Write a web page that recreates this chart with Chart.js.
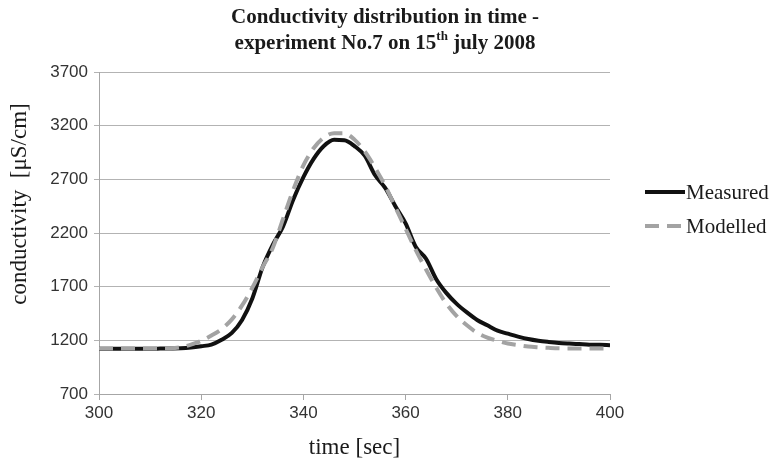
<!DOCTYPE html>
<html>
<head>
<meta charset="utf-8">
<script src="https://cdn.jsdelivr.net/npm/chart.js@4"></script>
<style>
  html, body { margin: 0; padding: 0; background: #fff; }
  #wrap { width: 776px; height: 465px; position: relative; }
</style>
</head>
<body>
<div id="wrap"><canvas id="conductivityChart"></canvas></div>
<script>
const timeSec = [300, 302, 304, 306, 308, 310, 312, 314, 316, 318,
    320, 322, 324, 326, 328, 330, 332, 334, 336, 338,
    340, 342, 344, 346, 348, 350, 352, 354, 356, 358,
    360, 362, 364, 366, 368, 370, 372, 374, 376, 378,
    380, 382, 384, 386, 388, 390, 392, 394, 396, 398, 400];

const measured = [1122, 1122, 1122, 1122, 1122, 1122, 1123, 1124, 1126, 1133,
    1145, 1160, 1205, 1270, 1390, 1590, 1880, 2090, 2260, 2510,
    2720, 2890, 3010, 3068, 3065, 3010, 2920, 2740, 2620, 2450,
    2290, 2070, 1960, 1770, 1640, 1540, 1460, 1390, 1340, 1290,
    1262, 1235, 1212, 1196, 1185, 1176, 1170, 1165, 1160, 1158, 1155];

const modelled = [1125, 1125, 1125, 1125, 1125, 1125, 1125, 1126, 1135, 1160,
    1195, 1245, 1305, 1395, 1525, 1690, 1880, 2060, 2330, 2600,
    2830, 2990, 3090, 3130, 3130, 3070, 2960, 2810, 2640, 2440,
    2240, 2040, 1860, 1690, 1540, 1425, 1340, 1270, 1225, 1195,
    1170, 1155, 1142, 1135, 1130, 1126, 1125, 1125, 1125, 1125, 1125];

const yTicks = [700, 1200, 1700, 2200, 2700, 3200, 3700];
const xTicks = [300, 320, 340, 360, 380, 400];

const titleLines = ['Conductivity distribution in time -', 'experiment No.7 on 15', 'th', ' july 2008'];
const seriesNames = ['Measured', 'Modelled'];
const yTitle = 'conductivity  [μS/cm]';

const serif = '"Liberation Serif", "Times New Roman", serif';
const sans = '"Liberation Sans", Arial, sans-serif';

const toPoints = (ys) => ys.map((y, i) => ({ x: timeSec[i], y }));

// title with superscript, y title and legend drawn by hand
const decorPlugin = {
    id: 'decor',
    afterDraw(chart) {
        const ctx = chart.ctx;
        ctx.save();
        ctx.fillStyle = '#1a1a1a';
        ctx.textBaseline = 'middle';
        const cx = 385;

        const mainFont = 'bold 21px ' + serif;
        const supFont = 'bold 13px ' + serif;
        ctx.font = mainFont;
        ctx.textAlign = 'center';
        ctx.fillText(titleLines[0], cx, 18);

        ctx.font = mainFont;
        const w1 = ctx.measureText(titleLines[1]).width;
        const w3 = ctx.measureText(titleLines[3]).width;
        ctx.font = supFont;
        const w2 = ctx.measureText(titleLines[2]).width;
        let x = cx - (w1 + w2 + w3) / 2;
        ctx.textAlign = 'left';
        ctx.font = mainFont;
        ctx.fillText(titleLines[1], x, 44);
        x += w1;
        ctx.font = supFont;
        ctx.fillText(titleLines[2], x, 37);
        x += w2;
        ctx.font = mainFont;
        ctx.fillText(titleLines[3], x, 44);

        // y axis title
        ctx.save();
        ctx.translate(20, 204);
        ctx.rotate(-Math.PI / 2);
        ctx.textAlign = 'center';
        ctx.font = '23px ' + serif;
        ctx.fillText(yTitle, 0, 0);
        ctx.restore();

        // legend
        const items = [
            { y: 192, color: '#111111', dash: [] },
            { y: 226, color: '#a3a3a3', dash: [14, 8] }
        ];
        ctx.textAlign = 'left';
        items.forEach((it, i) => {
            ctx.beginPath();
            ctx.setLineDash(it.dash);
            ctx.strokeStyle = it.color;
            ctx.lineWidth = 4;
            ctx.moveTo(645, it.y);
            ctx.lineTo(685, it.y);
            ctx.stroke();
            ctx.setLineDash([]);
            ctx.font = '21px ' + serif;
            ctx.fillStyle = '#1a1a1a';
            ctx.fillText(seriesNames[i], 686, it.y + 1);
        });
        ctx.restore();
    }
};

new Chart(document.getElementById('conductivityChart'), {
    type: 'line',
    data: {
        datasets: [
            {
                label: seriesNames[0],
                data: toPoints(measured),
                borderColor: '#111111',
                borderWidth: 4,
                pointRadius: 0,
                cubicInterpolationMode: 'monotone',
                order: 1
            },
            {
                label: seriesNames[1],
                data: toPoints(modelled),
                borderColor: '#a3a3a3',
                borderWidth: 4,
                borderDash: [14, 8],
                pointRadius: 0,
                cubicInterpolationMode: 'monotone',
                order: 0
            }
        ]
    },
    options: {
        responsive: true,
        maintainAspectRatio: false,
        animation: false,
        layout: {
            padding: { top: 72, right: 166, bottom: 0, left: 0 }
        },
        scales: {
            x: {
                type: 'linear',
                min: 300,
                max: 400,
                afterBuildTicks: (scale) => {
                    scale.ticks = xTicks.map((v) => ({ value: v }));
                },
                afterFit: (scale) => { scale.height = 71; },
                ticks: {
                    color: '#333',
                    font: { family: sans, size: 17 },
                    padding: 3,
                    maxRotation: 0,
                    callback: (value) => String(value)
                },
                grid: {
                    drawOnChartArea: false,
                    drawTicks: true,
                    tickLength: 6,
                    color: '#a6a6a6'
                },
                border: { color: '#a6a6a6' },
                title: {
                    display: true,
                    text: 'time [sec]',
                    color: '#1a1a1a',
                    font: { family: serif, size: 23 },
                    padding: { top: 0, bottom: 3 }
                }
            },
            y: {
                min: 700,
                max: 3700,
                afterBuildTicks: (scale) => {
                    scale.ticks = yTicks.map((v) => ({ value: v }));
                },
                afterFit: (scale) => { scale.width = 99; },
                ticks: {
                    color: '#333',
                    font: { family: sans, size: 17 },
                    padding: 6,
                    callback: (value) => String(value)
                },
                grid: {
                    color: '#b3b3b3',
                    tickLength: 5
                },
                border: { color: '#a6a6a6' }
            }
        },
        plugins: {
            legend: { display: false },
            tooltip: { enabled: false }
        }
    },
    plugins: [decorPlugin]
});
</script>
</body>
</html>
